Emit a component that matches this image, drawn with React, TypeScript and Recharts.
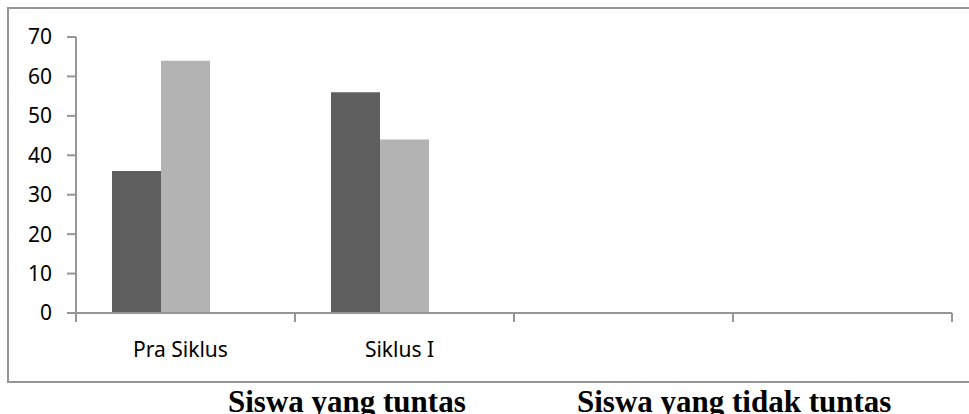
import React from 'react';
import { BarChart, Bar, XAxis, YAxis } from 'recharts';

// values
const categories = ['Pra Siklus', 'Siklus I', '', ''];
const tuntas = [36, 56, null, null];
const tidakTuntas = [64, 44, null, null];
const seri3 = [null, null, null, null];
const yTicks = [0, 10, 20, 30, 40, 50, 60, 70];
const legendLabels = ['Siswa yang tuntas', 'Siswa yang tidak tuntas'];

const data = categories.map((name, i) => ({
  name,
  tuntas: tuntas[i],
  tidakTuntas: tidakTuntas[i],
  seri3: seri3[i],
}));

const W = 969;
const H = 414;
const PLOT_LEFT = 76;
const PLOT_RIGHT = 952;
const AXIS_COLOR = '#969696';
const band = (PLOT_RIGHT - PLOT_LEFT) / categories.length;

const CategoryTick = (props: any) => {
  const { x, y, payload, index } = props;
  return (
    <g>
      <line x1={x - band / 2} x2={x - band / 2} y1={y} y2={y + 9} stroke={AXIS_COLOR} strokeWidth={2} />
      {index === categories.length - 1 && (
        <line x1={x + band / 2} x2={x + band / 2} y1={y} y2={y + 9} stroke={AXIS_COLOR} strokeWidth={2} />
      )}
      <text x={x - 5} y={y + 44} textAnchor="middle" fontSize={21} fill="#000">
        {payload.value}
      </text>
    </g>
  );
};

const legendStyle: React.CSSProperties = {
  position: 'absolute',
  top: 386,
  fontFamily: '"Liberation Serif", serif',
  fontWeight: 'bold',
  fontSize: 31,
  lineHeight: '31px',
  whiteSpace: 'nowrap',
  color: '#000',
};

const App: React.FC = () => {
  return (
    <div style={{ position: 'absolute', left: 0, top: 0, width: W, height: H, background: '#fff', overflow: 'hidden', fontFamily: '"Noto Sans", sans-serif' }}>
      <div
        style={{
          position: 'absolute',
          left: 7,
          top: 7,
          width: W,
          height: 372,
          borderTop: `2px solid ${AXIS_COLOR}`,
          borderLeft: `2px solid ${AXIS_COLOR}`,
          borderBottom: `2px solid ${AXIS_COLOR}`,
        }}
      />
      <div style={{ position: 'absolute', left: 0, top: 0 }}>
        <BarChart
          width={W}
          height={H}
          data={data}
          margin={{ top: 37, right: W - PLOT_RIGHT, bottom: 61, left: 0 }}
          barCategoryGap={36}
          barGap={0}
        >
          <XAxis
            dataKey="name"
            tick={<CategoryTick />}
            tickLine={false}
            tickSize={0}
            tickMargin={0}
            height={40}
            interval={0}
            axisLine={{ stroke: AXIS_COLOR, strokeWidth: 2 }}
          />
          <YAxis
            width={PLOT_LEFT}
            domain={[0, 70]}
            ticks={yTicks}
            interval={0}
            tickSize={9}
            tickMargin={15}
            tick={{ fill: '#000', fontSize: 21 }}
            tickLine={{ stroke: AXIS_COLOR, strokeWidth: 2 }}
            axisLine={{ stroke: AXIS_COLOR, strokeWidth: 2 }}
          />
          <Bar dataKey="tuntas" name={legendLabels[0]} fill="#5f5f5f" isAnimationActive={false} />
          <Bar dataKey="tidakTuntas" name={legendLabels[1]} fill="#b3b3b3" isAnimationActive={false} />
          <Bar dataKey="seri3" name="Seri 3" fill="#888888" isAnimationActive={false} />
        </BarChart>
      </div>
      <div style={{ ...legendStyle, left: 228 }}>{legendLabels[0]}</div>
      <div style={{ ...legendStyle, left: 577 }}>{legendLabels[1]}</div>
    </div>
  );
};

export default App;
